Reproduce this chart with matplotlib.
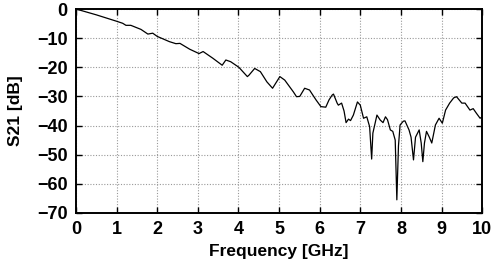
import numpy as np
import matplotlib
matplotlib.use("Agg")
import matplotlib.pyplot as plt

# S21 curve (frequency in GHz, S21 in dB)
freq = [0.0, 0.5, 1.0, 1.15, 1.23, 1.35, 1.6, 1.77, 1.89, 2.0, 2.3, 2.46, 2.56,
        2.8, 3.03, 3.13, 3.37, 3.6, 3.69, 3.81, 4.01, 4.22, 4.26, 4.4, 4.54,
        4.7, 4.84, 5.02, 5.14, 5.25, 5.35, 5.43, 5.51, 5.63, 5.75, 5.83, 5.91,
        6.03, 6.15, 6.23, 6.31, 6.34, 6.43, 6.46, 6.54, 6.6, 6.65, 6.71, 6.76,
        6.83, 6.93, 7.0, 7.08, 7.16, 7.23, 7.28, 7.31, 7.41, 7.49, 7.56, 7.62,
        7.67, 7.74, 7.8, 7.86, 7.9, 7.94, 7.98, 8.06, 8.1, 8.2, 8.25, 8.31,
        8.36, 8.45, 8.5, 8.54, 8.58, 8.63, 8.7, 8.76, 8.85, 8.94, 9.02, 9.1,
        9.2, 9.3, 9.37, 9.5, 9.58, 9.7, 9.78, 9.86, 9.95, 10.0]
s21 = [0.0, -2.0, -4.2, -4.9, -5.6, -5.6, -7.0, -8.6, -8.3, -9.4, -11.2,
       -11.9, -11.8, -13.8, -15.3, -14.6, -16.9, -19.3, -17.5, -18.1, -20.0,
       -23.2, -22.7, -20.4, -21.5, -25.0, -27.2, -23.2, -24.4, -26.5, -28.4,
       -30.1, -30.0, -27.2, -27.8, -29.5, -31.2, -33.5, -33.7, -31.2, -29.5,
       -29.2, -32.3, -33.0, -32.3, -35.0, -39.0, -37.8, -38.3, -36.4, -31.9,
       -33.0, -37.5, -37.0, -40.4, -51.5, -42.6, -36.4, -38.1, -39.0, -37.0,
       -38.0, -41.5, -42.0, -45.0, -65.5, -47.0, -39.8, -38.5, -38.4, -41.5,
       -44.0, -51.8, -44.0, -41.5, -46.0, -52.4, -46.0, -42.0, -44.0, -46.0,
       -39.8, -37.5, -39.2, -34.7, -32.3, -30.5, -30.1, -32.3, -32.3, -34.7,
       -34.2, -35.8, -37.5, -37.0]
xticks = np.arange(0, 11, 1)
yticks = np.arange(-70, 1, 10)

plt.rcParams["font.family"] = ["Liberation Sans", "DejaVu Sans"]
plt.rcParams["font.weight"] = "bold"

fig = plt.figure(figsize=(4.95, 2.73), dpi=100)
ax = fig.add_axes([0.1535, 0.22, 0.8205, 0.747])

ax.plot(freq, s21, color="black", linewidth=0.9)

ax.set_xlim(0, 10)
ax.set_ylim(-70, 0)
ax.set_xticks(xticks)
ax.set_yticks(yticks)
ax.grid(True, color="#999999", linestyle=(0, (1, 1.5)), linewidth=0.8)
ax.tick_params(direction="in", top=True, right=True, length=4, width=1,
               labelsize=13, pad=6)
for lab in ax.get_xticklabels() + ax.get_yticklabels():
    lab.set_fontweight("bold")
for sp in ax.spines.values():
    sp.set_linewidth(1.4)

ax.set_xlabel("Frequency [GHz]", fontsize=12.5, fontweight="bold", labelpad=4)
ax.set_ylabel("S21 [dB]", fontsize=12.5, fontweight="bold", labelpad=10)

fig.savefig("out.png", dpi=100)
